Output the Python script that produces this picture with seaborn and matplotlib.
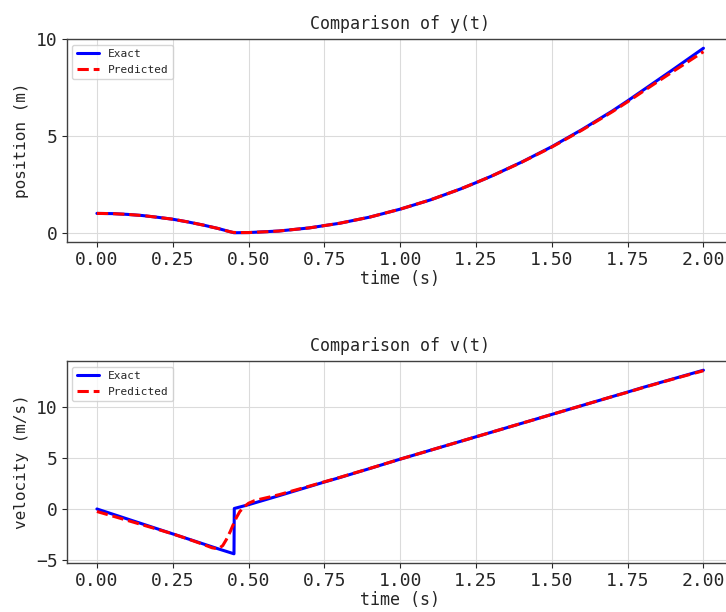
import numpy as np
import pandas as pd
import matplotlib
matplotlib.use("Agg")
import matplotlib.pyplot as plt
import seaborn as sns

# Values
t_exact = [0.0, 0.05, 0.1, 0.15, 0.2, 0.25, 0.3, 0.35, 0.4, 0.452, 0.453,
           0.5, 0.6, 0.7, 0.75, 0.8, 0.9, 1.0, 1.1, 1.2, 1.25, 1.3, 1.4, 1.5,
           1.6, 1.7, 1.75, 1.8, 1.9, 2.0]
y_exact = [1.0, 0.99, 0.95, 0.89, 0.80, 0.70, 0.56, 0.40, 0.22, 0.0, 0.0,
           0.01, 0.09, 0.25, 0.37, 0.49, 0.81, 1.22, 1.70, 2.27, 2.59, 2.92, 3.65, 4.45,
           5.34, 6.30, 6.82, 7.36, 8.44, 9.54]
v_exact = [0.0, -0.49, -0.98, -1.47, -1.96, -2.45, -2.94, -3.43, -3.92, -4.41, 0.05,
           0.42, 1.30, 2.20, 2.65, 3.08, 3.98, 4.90, 5.78, 6.66, 7.10, 7.54, 8.42, 9.30,
           10.18, 11.06, 11.50, 11.95, 12.80, 13.65]

t_pred = [0.0, 0.05, 0.1, 0.15, 0.2, 0.25, 0.3, 0.35, 0.38, 0.40, 0.415,
          0.427, 0.44, 0.449, 0.46, 0.471, 0.485, 0.5, 0.52, 0.54, 0.57, 0.6,
          0.7, 0.8, 0.9, 1.0, 1.1, 1.2, 1.25, 1.3, 1.4, 1.5, 1.6, 1.7, 1.75,
          1.8, 1.9, 2.0]
y_pred = [1.0, 0.99, 0.95, 0.89, 0.80, 0.70, 0.56, 0.40, 0.29, 0.22, 0.15,
          0.10, 0.05, 0.02, 0.01, 0.01, 0.01, 0.01, 0.02, 0.04, 0.06, 0.09,
          0.25, 0.49, 0.81, 1.22, 1.70, 2.27, 2.59, 2.92, 3.64, 4.43,
          5.31, 6.26, 6.77, 7.30, 8.34, 9.36]
v_pred = [-0.25, -0.68, -1.12, -1.56, -2.0, -2.45, -2.95, -3.48, -3.82, -3.92, -3.6,
          -3.0, -2.2, -1.57, -0.85, -0.26, 0.2, 0.56, 0.82, 0.97, 1.18, 1.40,
          2.24, 3.10, 3.99, 4.9, 5.78, 6.66, 7.10, 7.54, 8.42, 9.30, 10.18, 11.06, 11.48,
          11.93, 12.78, 13.60]

exact = pd.DataFrame({"t": t_exact, "y": y_exact, "v": v_exact})
pred = pd.DataFrame({"t": t_pred, "y": y_pred, "v": v_pred})

sns.set_style("whitegrid", {
    "axes.edgecolor": "0.25",
    "grid.color": "0.86",
    "xtick.bottom": True,
    "ytick.left": True,
    "xtick.color": "0.15",
    "ytick.color": "0.15",
})
plt.rcParams["font.family"] = ["DejaVu Sans Mono", "DejaVu Sans"]
plt.rcParams["axes.unicode_minus"] = True

fig = plt.figure(figsize=(7.26, 6.12), dpi=100)
ax1 = fig.add_axes([0.0917, 0.6046, 0.919, 0.3317])
ax2 = fig.add_axes([0.0917, 0.0801, 0.919, 0.3300])

panels = [
    (ax1, "y", "position (m)", "Comparison of y(t)"),
    (ax2, "v", "velocity (m/s)", "Comparison of v(t)"),
]
for ax, col, ylab, title in panels:
    sns.lineplot(data=exact, x="t", y=col, ax=ax, color="blue", lw=2.2,
                 label="Exact", estimator=None, sort=False)
    sns.lineplot(data=pred, x="t", y=col, ax=ax, color="red", lw=2.2,
                 linestyle="--", label="Predicted", estimator=None, sort=False)
    ax.set_title(title, fontsize=12, pad=7)
    ax.set_xlabel("time (s)", fontsize=12, labelpad=1)
    ax.set_ylabel(ylab, fontsize=11.5, labelpad=5)
    ax.tick_params(axis="both", labelsize=13, length=3.5, width=0.8, pad=3)
    ax.set_xticks([0.0, 0.25, 0.5, 0.75, 1.0, 1.25, 1.5, 1.75, 2.0])
    ax.grid(True, lw=0.8)
    for s in ax.spines.values():
        s.set_linewidth(1.0)
    ax.legend(loc="upper left", fontsize=8, frameon=True)

ax1.set_yticks([0, 5, 10])
ax2.set_yticks([-5, 0, 5, 10])

fig.savefig("out.png", dpi=100)
